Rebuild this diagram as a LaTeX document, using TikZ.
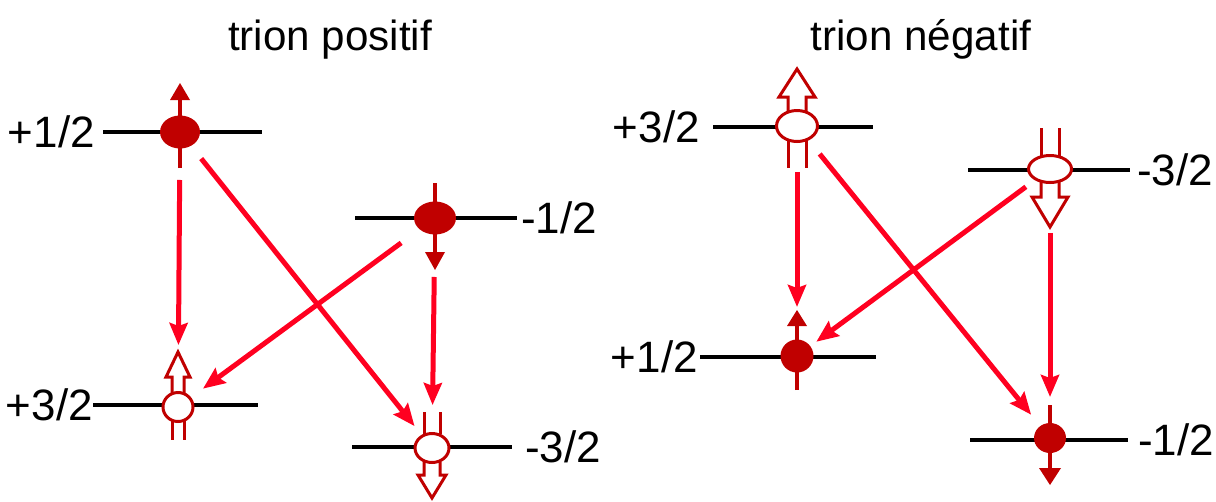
\documentclass[tikz,border=0pt]{standalone}
\usepackage{fontspec}
\setmainfont{Liberation Sans}
\usetikzlibrary{arrows.meta,shapes.geometric}
\definecolor{spinred}{RGB}{192,0,0}
\definecolor{transred}{RGB}{255,0,32}
% open (hole) spin arrow: x, foot y, head base y, tip y, half shaft, half head
\newcommand{\holespin}[6]{%
  \filldraw[holeline, fill=white] (#1-#5,#2) -- (#1-#5,#3) -- (#1-#6,#3) -- (#1,#4)
    -- (#1+#6,#3) -- (#1+#5,#3) -- (#1+#5,#2);}
% two legs of a hole spin: x, y from, y to, half gap
\newcommand{\holelegs}[4]{%
  \draw[holeline] (#1-#4,#2) -- (#1-#4,#3) (#1+#4,#2) -- (#1+#4,#3);}
% electron spin arrow: x, foot y, head base y, tip y, half head
\newcommand{\elecspin}[5]{%
  \draw[spinline] (#1,#2) -- (#1,#3);
  \fill[spinred] (#1-#5,#3) -- (#1,#4) -- (#1+#5,#3) -- cycle;}
\begin{document}
\begin{tikzpicture}[x=0.02cm, y=-0.02cm,
  level/.style={line width=0.075cm},
  spinline/.style={spinred, line width=0.07cm},
  holeline/.style={draw=spinred, line width=0.06cm},
  electron/.style={ellipse, fill=spinred, inner sep=0pt},
  hole/.style={ellipse, draw=spinred, fill=white, line width=0.06cm, inner sep=0pt},
  trans/.style={transred, line width=0.1cm,
    -{Stealth[length=0.44cm, width=0.36cm, inset=0.06cm]}},
  lbl/.style={font=\fontsize{25}{30}\selectfont, inner sep=0pt},
  title/.style={font=\fontsize{24}{28}\selectfont, inner sep=0pt}]
  \useasboundingbox (0,0) rectangle (1216,501);

  \node[title, anchor=base] (tpos) at (330,50) {trion positif};
  \node[title, anchor=base] (tneg) at (921,50) {trion négatif};

  % trion positif
  \draw[level] (103,132) -- (262,132);
  \draw[level] (355,218) -- (517,218);
  \draw[level] (93,405) -- (258,405);
  \draw[level] (352,447) -- (512,447);
  \node[lbl, anchor=base east] (lp1) at (95,147) {+1/2};
  \node[lbl, anchor=base west] (lp2) at (521,233) {-1/2};
  \node[lbl, anchor=base east] (lp3) at (93,420) {+3/2};
  \node[lbl, anchor=base west] (lp4) at (525,462) {-3/2};

  \elecspin{180}{168}{100}{83}{10}
  \elecspin{435}{183}{252}{270}{10}
  \holespin{178}{393}{377}{352}{6}{12}
  \holelegs{178}{420}{440}{6}
  \holelegs{432}{412}{434}{8}
  \holespin{432}{462}{475}{498}{8}{14}
  \node[electron, minimum width=0.8cm, minimum height=0.66cm] (e1) at (180,132) {};
  \node[electron, minimum width=0.84cm, minimum height=0.66cm] (e2) at (435,218) {};
  \node[hole, minimum width=0.6cm, minimum height=0.58cm] (h1) at (178,407) {};
  \node[hole, minimum width=0.68cm, minimum height=0.58cm] (h2) at (432,448) {};

  \draw[trans, shorten <=0.96cm, shorten >=1.24cm] (e1.center) -- (h1.center);
  \draw[trans, shorten <=0.68cm, shorten >=0.56cm] (e1.center) -- (h2.center);
  \draw[trans, shorten <=0.84cm, shorten >=0.62cm] (e2.center) -- (h1.center);
  \draw[trans, shorten <=1.18cm, shorten >=0.86cm] (e2.center) -- (h2.center);

  % trion negatif
  \draw[level] (713,127) -- (873,127);
  \draw[level] (968,170) -- (1130,170);
  \draw[level] (700,357) -- (876,357);
  \draw[level] (970,440) -- (1128,440);
  \node[lbl, anchor=base east] (ln1) at (700,142) {+3/2};
  \node[lbl, anchor=base west] (ln2) at (1137,185) {-3/2};
  \node[lbl, anchor=base east] (ln3) at (698,372) {+1/2};
  \node[lbl, anchor=base west] (ln4) at (1138,455) {-1/2};

  \holespin{797}{111}{97}{69}{9}{18}
  \holelegs{797}{141}{168}{9}
  \holelegs{1050}{128}{156}{9}
  \holespin{1050}{182}{197}{227}{9}{18}
  \elecspin{797}{390}{326}{310}{10}
  \elecspin{1050}{405}{468}{485}{11}
  \node[hole, minimum width=0.82cm, minimum height=0.62cm] (h3) at (797,126) {};
  \node[hole, minimum width=0.86cm, minimum height=0.54cm] (h4) at (1050,169) {};
  \node[electron, minimum width=0.66cm, minimum height=0.66cm] (e3) at (797,356) {};
  \node[electron, minimum width=0.64cm, minimum height=0.6cm] (e4) at (1050,438) {};

  \draw[trans, shorten <=0.92cm, shorten >=0.98cm] (h3.center) -- (e3.center);
  \draw[trans, shorten <=0.72cm, shorten >=0.6cm] (h3.center) -- (e4.center);
  \draw[trans, shorten <=0.6cm, shorten >=0.48cm] (h4.center) -- (e3.center);
  \draw[trans, shorten <=1.28cm, shorten >=0.82cm] (h4.center) -- (e4.center);
\end{tikzpicture}
\end{document}
